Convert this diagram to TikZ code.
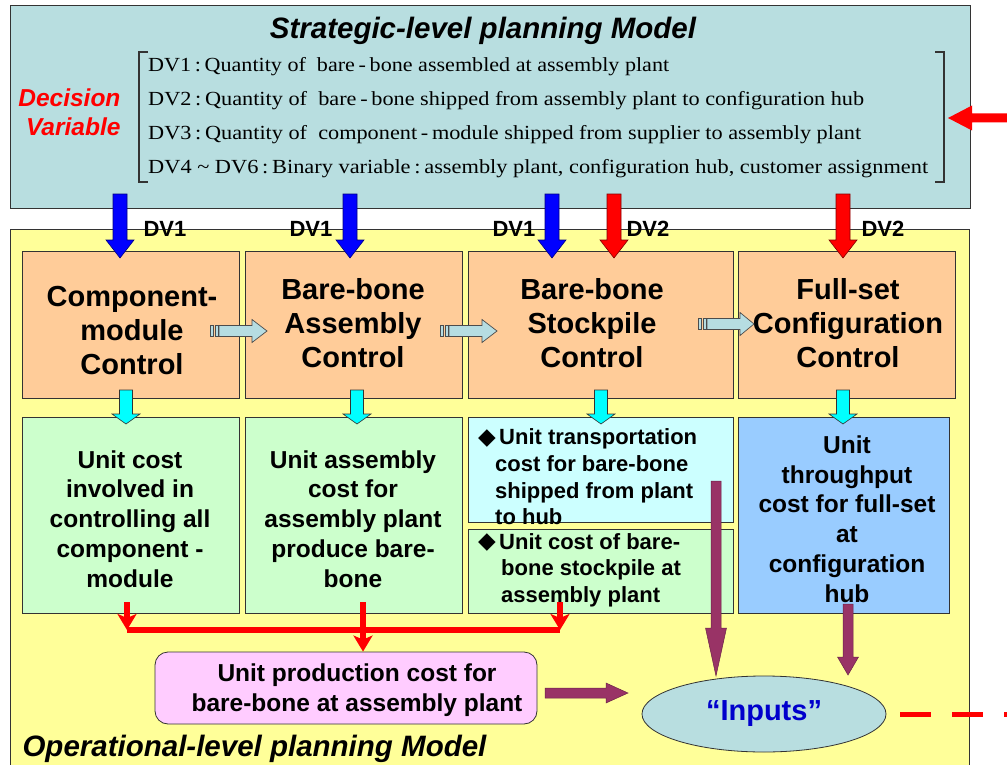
\documentclass[tikz,border=0pt]{standalone}
\usepackage{fontspec}
\usepackage{graphicx}
\setmainfont{Liberation Sans}
\newfontfamily\dvserif{Liberation Serif}
\newfontfamily\symfont{DejaVu Sans}
\usetikzlibrary{arrows.meta,calc,shapes.geometric}

\definecolor{tealbg}{RGB}{184,222,224}
\definecolor{yellowbg}{RGB}{255,255,153}
\definecolor{orangebox}{RGB}{255,204,153}
\definecolor{greenbox}{RGB}{204,255,204}
\definecolor{cyanbox}{RGB}{204,255,255}
\definecolor{bluebox}{RGB}{153,204,255}
\definecolor{pinkbox}{RGB}{255,204,255}
\definecolor{maroon}{RGB}{153,51,102}
\definecolor{inputblue}{RGB}{0,0,204}
\definecolor{edgegray}{RGB}{51,51,51}
\definecolor{stripefill}{RGB}{182,221,226}
\definecolor{brightcyan}{RGB}{0,255,255}
\definecolor{pureblue}{RGB}{0,0,255}
\definecolor{purered}{RGB}{255,0,0}

% scale a line of text horizontally to a given width (in pt)
\newsavebox\fitbox
\newcommand\fitto[2]{\sbox\fitbox{#2}\pgfmathsetmacro\fitratio{#1/\the\wd\fitbox}\scalebox{\fitratio}[1]{\usebox\fitbox}}
\newcommand\dia{\makebox[21pt][l]{\raisebox{0.5pt}{\symfont\fontsize{23}{23}\selectfont ◆}}}

% vertical block arrow: options, x, top, head base, tip, shaft half-width, head half-width
\newcommand\blockdown[7]{%
  \path[#1] ({#2-#6},#3) -- ({#2+#6},#3) -- ({#2+#6},#4) -- ({#2+#7},#4) -- (#2,#5)
    -- ({#2-#7},#4) -- ({#2-#6},#4) -- cycle;}
% horizontal block arrow: options, y, tail, head base, tip, shaft half-height, head half-height
\newcommand\blockright[7]{%
  \path[#1] (#3,{#2-#6}) -- (#4,{#2-#6}) -- (#4,{#2-#7}) -- (#5,#2) -- (#4,{#2+#7})
    -- (#4,{#2+#6}) -- (#3,{#2+#6}) -- cycle;}
% striped right arrow: tail x, y, head base, tip
\newcommand\stripedarrow[4]{%
  \path[stripe] (#1,{#2-5.5}) rectangle ({#1+3},{#2+5.5});
  \path[stripe] ({#1+5},{#2-5.5}) rectangle ({#1+8},{#2+5.5});
  \blockright{stripe}{#2}{{#1+9}}{#3}{#4}{5.5}{11.5}}

\tikzset{
  panel/.style={draw=edgegray, line width=1pt, inner sep=0pt},
  cbox/.style={draw=edgegray, line width=0.8pt, inner sep=0pt},
  bigtext/.style={align=center, font=\bfseries\fontsize{29}{34}\selectfont},
  costtext/.style={align=center, font=\bfseries\fontsize{24.5}{29.8}\selectfont},
  listtext/.style={align=left, font=\bfseries\fontsize{22}{26.6}\selectfont},
  dvlabel/.style={font=\bfseries\fontsize{22}{24}\selectfont},
  heading/.style={font=\bfseries\itshape\fontsize{29.5}{33}\selectfont},
  bluearrow/.style={fill=pureblue, draw=pureblue!50!black, line width=0.6pt},
  redarrow/.style={fill=purered, draw=purered!50!black, line width=0.6pt},
  cyanarrow/.style={fill=brightcyan, draw=edgegray, line width=0.6pt},
  stripe/.style={fill=stripefill, draw=black!70, line width=0.7pt},
  maroonarrow/.style={fill=maroon, draw=maroon!70!black, line width=0.5pt},
  redconn/.style={draw=purered, line width=6pt},
  redtip/.style={-{Stealth[length=16pt,width=19pt,inset=4pt]}},
}

\begin{document}
\begin{tikzpicture}[x=1pt,y=-1pt]
\useasboundingbox (0,0) rectangle (1007,765);

% planning levels
\node[panel, fill=tealbg, minimum width=960pt, minimum height=202pt] (strategic) at (490,107) {};
\node[panel, fill=yellowbg, minimum width=959pt, minimum height=561pt] (operational) at (489.5,509.5) {};

\node[heading] (stitle) at (483,31) {Strategic-level planning Model};
\node[heading, anchor=west] (otitle) at (19,749) {Operational-level planning Model};

% decision variables
\node[anchor=east, align=right, text=purered, font=\bfseries\itshape\fontsize{24.5}{29}\selectfont] (dv) at (124,112) {Decision\\Variable};
\node[anchor=west, align=left, inner sep=0pt, font=\dvserif\fontsize{20}{34}\selectfont] (dvlist) at (148,118) {%
  \fitto{521}{DV1\,:\,Quantity of\ \ bare\,-\,bone assembled at assembly plant}\\
  \fitto{716}{DV2\,:\,Quantity of\ \ bare\,-\,bone shipped from assembly plant to configuration hub}\\
  \fitto{713}{DV3\,:\,Quantity of\ \ component\,-\,module shipped from supplier to assembly plant}\\
  \fitto{780}{DV4 {\char"7E} DV6\,:\,Binary variable\,:\,assembly plant, configuration hub, customer assignment}};
\draw[edgegray, line width=1.1pt] (148,52) -- (139,52) -- (139,182) -- (148,182);
\draw[edgegray, line width=1.1pt] (935,52) -- (944,52) -- (944,182) -- (935,182);
\blockright{fill=purered}{118}{1012}{972}{948}{4.5}{12.5}

% control modules
\node[cbox, fill=orangebox, minimum width=217pt, minimum height=147pt] (o1) at (130.5,324.5) {};
\node[cbox, fill=orangebox, minimum width=217pt, minimum height=147pt] (o2) at (353.5,324.5) {};
\node[cbox, fill=orangebox, minimum width=265pt, minimum height=147pt] (o3) at (600.5,324.5) {};
\node[cbox, fill=orangebox, minimum width=217pt, minimum height=147pt] (o4) at (846.5,324.5) {};
\node[bigtext] (o1t) at (132,331) {Component-\\module\\Control};
\node[bigtext] (o2t) at (353,323) {Bare-bone\\Assembly\\Control};
\node[bigtext] (o3t) at (592,323) {Bare-bone\\Stockpile\\Control};
\node[bigtext] (o4t) at (848,323) {Full-set\\Configuration\\Control};

% cost items
\node[cbox, fill=greenbox, minimum width=217pt, minimum height=196pt] (g1) at (130.5,515) {};
\node[cbox, fill=greenbox, minimum width=217pt, minimum height=196pt] (g2) at (353.5,515) {};
\node[cbox, fill=cyanbox, minimum width=265pt, minimum height=105pt] (c3) at (600.5,469.5) {};
\node[cbox, fill=greenbox, minimum width=265pt, minimum height=84pt] (g3) at (600.5,571) {};
\node[cbox, fill=bluebox, minimum width=211pt, minimum height=196pt] (b4) at (843.5,515) {};
\node[costtext] (g1t) at (130,519) {Unit cost\\involved in\\controlling all\\component -\\module};
\node[costtext] (g2t) at (353,519) {Unit assembly\\cost for\\assembly plant\\produce bare-\\bone};
\node[costtext] (b4t) at (847,519) {Unit\\throughput\\cost for full-set\\at\\configuration\\hub};
\node[listtext, anchor=west, inner sep=0pt] (c3t) at (478,477) {\dia Unit transportation\\\hspace*{17pt}cost for bare-bone\\\hspace*{17pt}shipped from plant\\\hspace*{17pt}to hub};
\node[listtext, anchor=west, inner sep=0pt] (g3t) at (478,570) {\dia Unit cost of bare-\\\hspace*{23pt}bone stockpile at\\\hspace*{23pt}assembly plant};

% production cost and model inputs
\node[cbox, fill=pinkbox, rounded corners=13pt, minimum width=382pt, minimum height=72pt] (pink) at (346,688) {};
\node[costtext] (pinkt) at (357,690) {Unit production cost for\\bare-bone at assembly plant};
\node[ellipse, draw=edgegray, line width=0.8pt, fill=tealbg, minimum width=244pt, minimum height=76pt,
      text=inputblue, font=\bfseries\fontsize{29}{32}\selectfont] (inputs) at (764,714) {\raisebox{-1.5pt}{“Inputs”}};

% decision variables passed down
\blockdown{bluearrow}{120}{194}{240}{258}{7}{14}
\blockdown{bluearrow}{350}{194}{240}{258}{7}{14}
\blockdown{bluearrow}{552}{194}{240}{258}{7}{14}
\blockdown{redarrow}{614}{194}{240}{258}{7}{14}
\blockdown{redarrow}{843}{194}{240}{258}{7}{14}
\node[dvlabel] (l1) at (165,229) {DV1};
\node[dvlabel] (l2) at (311,229) {DV1};
\node[dvlabel] (l3) at (514,229) {DV1};
\node[dvlabel] (l4) at (648,229) {DV2};
\node[dvlabel] (l5) at (883,229) {DV2};

% flow between control modules
\stripedarrow{210}{331}{252}{267}
\stripedarrow{440}{331}{482}{497}
\stripedarrow{698}{324}{740}{754}

% control modules to their costs
\blockdown{cyanarrow}{126}{390}{414}{424}{6.5}{14}
\blockdown{cyanarrow}{357}{390}{414}{424}{6.5}{14}
\blockdown{cyanarrow}{601}{390}{414}{424}{6.5}{14}
\blockdown{cyanarrow}{843}{390}{414}{424}{6.5}{14}

% costs gathered into the production cost
\coordinate (r1) at (127,602);
\coordinate (r2) at (363,602);
\coordinate (r3) at (560,602);
\coordinate (bus1) at (127,630);
\coordinate (bus3) at (560,630);
\draw[redconn] (bus1) -- (bus3);
\draw[redconn, redtip] (r1) -- (bus1);
\draw[redconn, redtip] (r3) -- (bus3);
\draw[redconn, redtip] (r2) -- (r2 |- pink.north);

% costs fed to the inputs
\blockright{maroonarrow}{693}{545}{606}{628}{5}{10}
\blockdown{maroonarrow}{716}{481}{628}{676}{5}{10.5}
\blockdown{maroonarrow}{848}{604}{657}{675}{5}{10.5}

\coordinate (dashend) at (1012,714);
\draw[purered, line width=5pt, dash pattern=on 31pt off 21pt] ([xshift=14pt]inputs.east) -- (dashend);
\end{tikzpicture}
\end{document}
